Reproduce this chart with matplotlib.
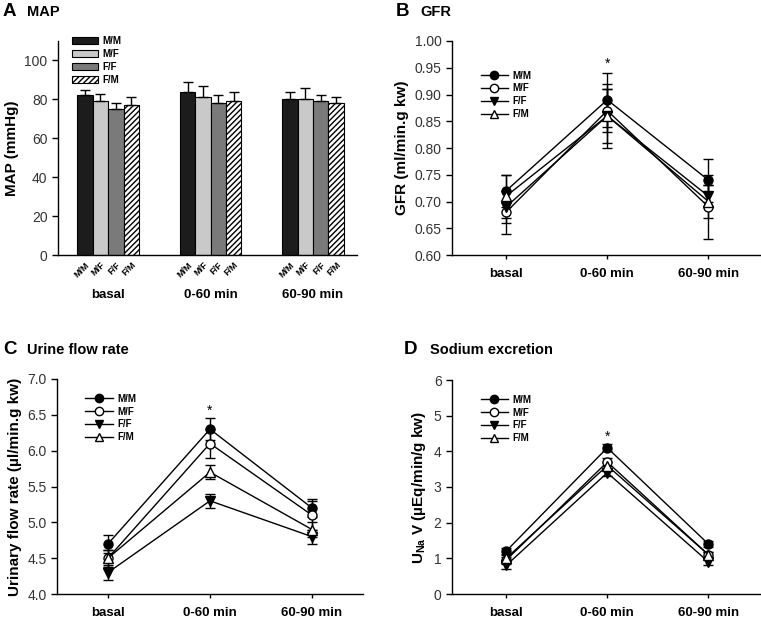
import matplotlib
matplotlib.use("Agg")
import matplotlib.pyplot as plt
from matplotlib.lines import Line2D
import numpy as np

plt.rcParams['font.family'] = ['Liberation Sans', 'DejaVu Sans']
plt.rcParams['mathtext.fontset'] = 'custom'
plt.rcParams['mathtext.rm'] = 'Liberation Sans'
plt.rcParams['mathtext.bf'] = 'Liberation Sans:bold'
plt.rcParams['hatch.linewidth'] = 1.0

periods = ["basal", "0-60 min", "60-90 min"]
groups = ["M/M", "M/F", "F/F", "F/M"]

# Panel A: MAP (mmHg)
map_mean = {"M/M": [82, 84, 80], "M/F": [79, 81, 80], "F/F": [75, 78, 79], "F/M": [77, 79, 78]}
map_err = {"M/M": [3, 5, 4], "M/F": [4, 6, 6], "F/F": [3, 4, 3], "F/M": [4, 5, 3]}

# Panel B: GFR (ml/min.g kw)
gfr_mean = {"M/M": [0.72, 0.89, 0.74], "M/F": [0.68, 0.87, 0.69], "F/F": [0.69, 0.86, 0.71], "F/M": [0.71, 0.86, 0.70]}
gfr_err = {"M/M": [0.03, 0.05, 0.04], "M/F": [0.04, 0.04, 0.06], "F/F": [0.03, 0.05, 0.02], "F/M": [0.04, 0.06, 0.03]}

# Panel C: urinary flow rate (µl/min.g kw)
ufr_mean = {"M/M": [4.7, 6.3, 5.2], "M/F": [4.5, 6.1, 5.1], "F/F": [4.3, 5.3, 4.8], "F/M": [4.5, 5.7, 4.9]}
ufr_err = {"M/M": [0.13, 0.15, 0.13], "M/F": [0.12, 0.2, 0.2], "F/F": [0.1, 0.1, 0.1], "F/M": [0.12, 0.1, 0.1]}

# Panel D: sodium excretion (µEq/min/g kw)
una_mean = {"M/M": [1.2, 4.1, 1.4], "M/F": [0.95, 3.7, 1.1], "F/F": [0.8, 3.4, 0.9], "F/M": [1.0, 3.6, 1.1]}
una_err = {"M/M": [0.08, 0.1, 0.08], "M/F": [0.1, 0.1, 0.08], "F/F": [0.1, 0.08, 0.1], "F/M": [0.1, 0.1, 0.08]}

W, H = 761, 621
fig = plt.figure(figsize=(W / 100, H / 100), dpi=100)

def ax_at(l, r, t, b):
    return fig.add_axes([l / W, (H - b) / H, (r - l) / W, (b - t) / H])

def style(ax):
    for s in ['top', 'right']:
        ax.spines[s].set_visible(False)
    for s in ['left', 'bottom']:
        ax.spines[s].set_linewidth(1.0)
    ax.tick_params(axis='y', labelsize=10, labelcolor='#333333', length=4, width=1, direction='out')

# ---------- Panel A ----------
axA = ax_at(58, 357, 41, 255)
style(axA)
x = np.arange(len(periods))
w = 0.15
bar_styles = {
    "M/M": dict(color='#1c1c1c', hatch=None),
    "M/F": dict(color='#c9c9c9', hatch=None),
    "F/F": dict(color='#7a7a7a', hatch=None),
    "F/M": dict(color='white', hatch='//////'),
}
handles = []
for i, g in enumerate(groups):
    pos = x + (i - 1.5) * w
    bars = axA.bar(pos, map_mean[g], w, color=bar_styles[g]['color'], edgecolor='black',
                   linewidth=0.8, hatch=bar_styles[g]['hatch'], label=g, zorder=2)
    axA.errorbar(pos, map_mean[g], yerr=[np.zeros(3), map_err[g]], fmt='none', ecolor='black',
                 elinewidth=1, capsize=3.5, capthick=1, zorder=3)
    handles.append(bars)
axA.set_xlim(-0.49, 2.43)
axA.set_ylim(0, 110)
axA.set_yticks([0, 20, 40, 60, 80, 100])
tick_pos = np.concatenate([x + (i - 1.5) * w for i in range(4)])
tick_lab = [g for g in groups for _ in periods]
order = np.argsort(tick_pos)
axA.set_xticks(tick_pos[order])
axA.set_xticklabels(np.array(tick_lab)[order], rotation=45, fontsize=6.5, fontweight='bold',
                    ha='right', va='top', rotation_mode='anchor')
axA.tick_params(axis='x', length=0, pad=4)
for xi, p in zip(x, periods):
    axA.text(xi, -20.5, p, ha='center', va='center', fontsize=9.5, fontweight='bold')
axA.set_ylabel("MAP (mmHg)", fontsize=11, fontweight='bold', labelpad=4)
axA.legend(handles=handles, labels=groups, loc='upper left', bbox_to_anchor=(0.035, 1.04),
           frameon=False, prop={'size': 7, 'weight': 'bold'}, handlelength=2.6, handleheight=0.75,
           labelspacing=0.3, handletextpad=0.5, borderaxespad=0)

# ---------- line panels ----------
markers = {"M/M": dict(marker='o', mfc='black'),
           "M/F": dict(marker='o', mfc='white'),
           "F/F": dict(marker='v', mfc='black'),
           "F/M": dict(marker='^', mfc='white')}

def line_panel(ax, mean, err, ylim, yticks, yfmt, ylabel, star_y, xlim):
    style(ax)
    for g in groups:
        ax.errorbar(x, mean[g], yerr=err[g], color='black', linewidth=1, elinewidth=1,
                    capsize=3.5, capthick=1, marker=markers[g]['marker'], mfc=markers[g]['mfc'],
                    mec='black', mew=1, ms=6.5, label=g, zorder=3)
    ax.set_xlim(*xlim)
    ax.set_ylim(*ylim)
    ax.set_yticks(yticks)
    ax.set_yticklabels([yfmt.format(v) for v in yticks])
    ax.set_xticks(x)
    ax.set_xticklabels(periods, fontsize=9.5, fontweight='bold')
    ax.tick_params(axis='x', length=3, width=1, pad=6)
    ax.set_ylabel(ylabel, fontsize=11, fontweight='bold', labelpad=4)
    ax.text(1, star_y, '*', ha='center', va='center', fontsize=10)
    lh = [Line2D([0], [0], color='black', lw=1, marker=markers[g]['marker'], mfc=markers[g]['mfc'],
                 mec='black', ms=6) for g in groups]
    ax.legend(lh, groups, loc='upper left', bbox_to_anchor=(0.08, 0.88), frameon=False,
              prop={'size': 7, 'weight': 'bold'}, handlelength=2.8, labelspacing=0.3,
              handletextpad=0.5, borderaxespad=0)

axB = ax_at(452, 760, 41, 255)
line_panel(axB, gfr_mean, gfr_err, (0.60, 1.00), np.round(np.arange(0.60, 1.001, 0.05), 2), "{:.2f}",
           "GFR (ml/min.g kw)", 0.957, (-0.535, 2.51))

axC = ax_at(57, 363, 379, 594)
line_panel(axC, ufr_mean, ufr_err, (4.0, 7.0), np.arange(4.0, 7.01, 0.5), "{:.1f}",
           "Urinary flow rate (µl/min.g kw)", 6.56, (-0.5, 2.5))
axC.legend_.set_bbox_to_anchor((0.08, 0.95))

axD = ax_at(452, 760, 380, 594)
line_panel(axD, una_mean, una_err, (0, 6), np.arange(0, 7, 1), "{:d}",
           r"U$_{\mathbf{Na}}$ V (µEq/min/g kw)", 4.42, (-0.535, 2.51))
axD.legend_.set_bbox_to_anchor((0.08, 0.95))

# ---------- panel labels ----------
def panel_label(xp, yp, letter, title, dx=24):
    fig.text(xp / W, 1 - yp / H, letter, fontsize=13.5, fontweight='bold', va='center', ha='left')
    fig.text((xp + dx) / W, 1 - yp / H, title, fontsize=10.5, fontweight='bold', va='center', ha='left')

panel_label(3, 12, "A", "MAP")
panel_label(396, 12, "B", "GFR")
panel_label(3, 350, "C", "Urine flow rate")
panel_label(404, 350, "D", "Sodium excretion", dx=26)

fig.savefig("out.png", dpi=100)
